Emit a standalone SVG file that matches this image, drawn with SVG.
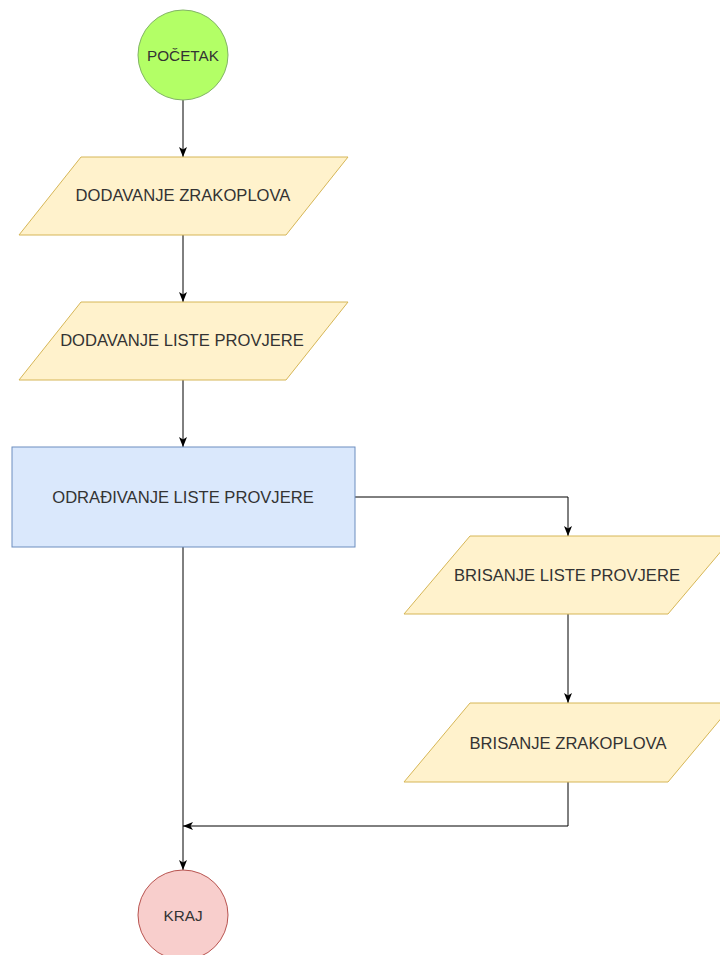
<svg xmlns="http://www.w3.org/2000/svg" width="720" height="955" viewBox="0 0 720 955">
  <style>
    .lbl { font-family: "Liberation Sans", Arial, Helvetica, sans-serif; font-size: 16.6px; fill: #333333; text-anchor: middle; }
    .sm { font-size: 15.3px; }
    .io { fill: #fff2cc; stroke: #d6b656; stroke-width: 1; }
    .proc { fill: #dae8fc; stroke: #6c8ebf; stroke-width: 1; }
    .start { fill: #b3ff66; stroke: #82b366; stroke-width: 1; }
    .end { fill: #f8cecc; stroke: #b85450; stroke-width: 1; }
    .edge { fill: none; stroke: #000000; stroke-width: 1; }
  </style>
  <defs>
    <marker id="arrow" markerUnits="userSpaceOnUse" markerWidth="10" markerHeight="10" viewBox="0 0 10 10" refX="10" refY="5" orient="auto">
      <path d="M0,1 L10,5 L0,9 L2.5,5 Z" fill="#000000"/>
    </marker>
  </defs>
  <rect x="0" y="0" width="720" height="955" fill="#ffffff"/>

  <g id="connectors">
    <path class="edge" d="M183,100 L183,157" marker-end="url(#arrow)"/>
    <path class="edge" d="M183,235 L183,302" marker-end="url(#arrow)"/>
    <path class="edge" d="M183,380 L183,447" marker-end="url(#arrow)"/>
    <path class="edge" d="M355,497 L568,497 L568,536" marker-end="url(#arrow)"/>
    <path class="edge" d="M568,614 L568,703" marker-end="url(#arrow)"/>
    <path class="edge" d="M568,782 L568,826 L183,826" marker-end="url(#arrow)"/>
    <path class="edge" d="M183,547 L183,870" marker-end="url(#arrow)"/>
  </g>

  <g id="start">
    <circle class="start" cx="183" cy="55" r="45"/>
    <text class="lbl sm" x="183" y="61">POČETAK</text>
  </g>

  <g id="add-aircraft">
    <polygon class="io" points="81,157 348,157 286,235 19,235"/>
    <text class="lbl" x="183" y="201">DODAVANJE ZRAKOPLOVA</text>
  </g>

  <g id="add-checklist">
    <polygon class="io" points="81,302 348,302 286,380 19,380"/>
    <text class="lbl" x="182" y="346">DODAVANJE LISTE PROVJERE</text>
  </g>

  <g id="process-checklist">
    <rect class="proc" x="12" y="447" width="343" height="100"/>
    <text class="lbl" x="183" y="503">ODRAĐIVANJE LISTE PROVJERE</text>
  </g>

  <g id="delete-checklist">
    <polygon class="io" points="470,536 734,536 668,614 404,614"/>
    <text class="lbl" x="567" y="581">BRISANJE LISTE PROVJERE</text>
  </g>

  <g id="delete-aircraft">
    <polygon class="io" points="470,703 734,703 668,782 404,782"/>
    <text class="lbl" x="568" y="749">BRISANJE ZRAKOPLOVA</text>
  </g>

  <g id="end">
    <circle class="end" cx="183" cy="915" r="45"/>
    <text class="lbl sm" x="183" y="921">KRAJ</text>
  </g>
</svg>
